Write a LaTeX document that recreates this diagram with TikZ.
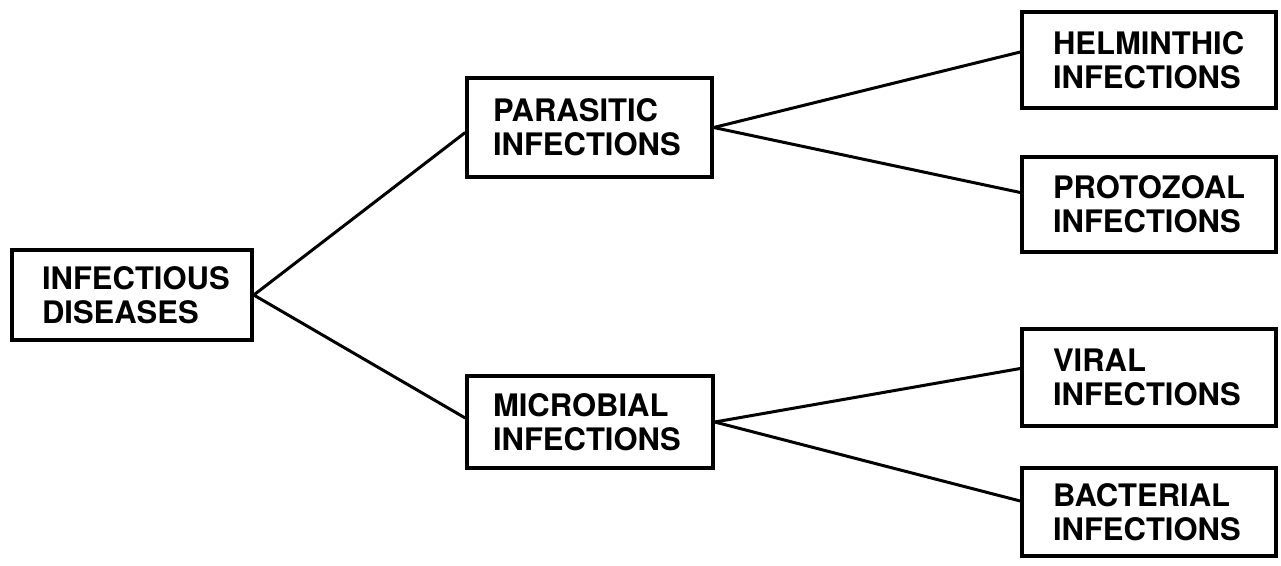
\documentclass[tikz,border=0pt]{standalone}
\usepackage{fontspec}
\setmainfont{TeX Gyre Heros}
\begin{document}
\begin{tikzpicture}[x=1pt,y=-1pt,
  box/.style={draw, line width=3.5pt, rectangle, align=left, inner xsep=0pt, inner ysep=0pt,
    font=\fontsize{31}{34}\selectfont\bfseries},
  link/.style={line width=3pt}]
\useasboundingbox (0,0) rectangle (1281,565);
\node[box, minimum width=240pt, minimum height=90pt, text width=180pt] (root) at (132,295) {INFECTIOUS\\DISEASES};
\node[box, minimum width=245pt, minimum height=99pt, text width=193pt] (par) at (589.5,127.5) {PARASITIC\\INFECTIONS};
\node[box, minimum width=246pt, minimum height=92pt, text width=194pt] (mic) at (590,422) {MICROBIAL\\INFECTIONS};
\node[box, minimum width=254pt, minimum height=96pt, text width=192pt] (hel) at (1149,60) {HELMINTHIC\\INFECTIONS};
\node[box, minimum width=254pt, minimum height=95pt, text width=192pt] (pro) at (1149,204.5) {PROTOZOAL\\INFECTIONS};
\node[box, minimum width=254pt, minimum height=97pt, text width=192pt] (vir) at (1149,377.5) {VIRAL\\INFECTIONS};
\node[box, minimum width=254pt, minimum height=88pt, text width=192pt] (bac) at (1149,512) {BACTERIAL\\INFECTIONS};
\draw[link] (root.east) -- ([yshift=-5pt]par.west);
\draw[link] (root.east) -- ([yshift=4pt]mic.west);
\draw[link] (par.east) -- ([yshift=8pt]hel.west);
\draw[link] (par.east) -- ([yshift=12pt]pro.west);
\draw[link] (mic.east) -- ([yshift=9pt]vir.west);
\draw[link] (mic.east) -- ([yshift=11pt]bac.west);
\end{tikzpicture}
\end{document}
